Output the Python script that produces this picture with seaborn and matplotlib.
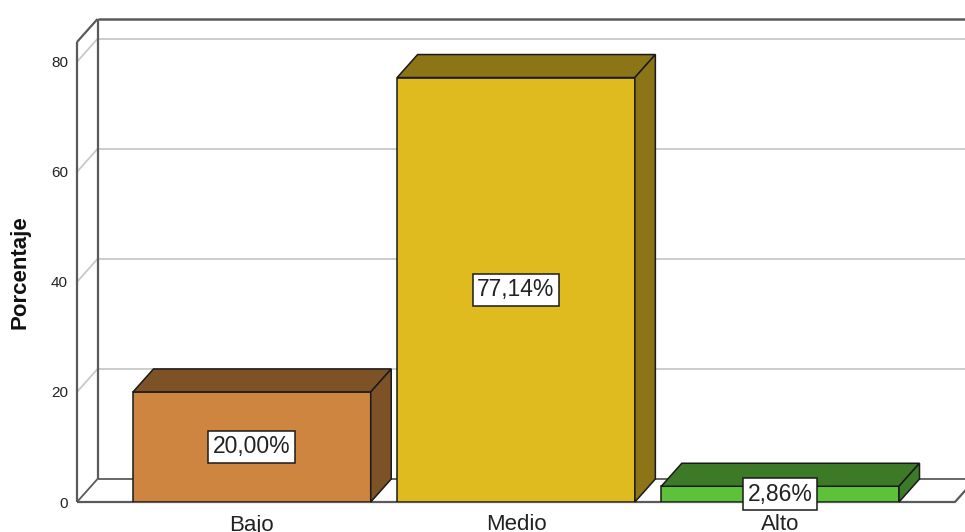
import matplotlib
matplotlib.use("Agg")
import matplotlib.pyplot as plt
from matplotlib.patches import Polygon
import seaborn as sns
import pandas as pd

# Data
categories = ["Bajo", "Medio", "Alto"]
percentages = [20.00, 77.14, 2.86]
value_labels = ["20,00%", "77,14%", "2,86%"]
y_ticks = [0, 20, 40, 60, 80]
y_title = "Porcentaje"

# Face colours: front, top/side (shaded)
front_colors = ["#CD853F", "#E0BB20", "#5EC13A"]
shade_colors = ["#7E5227", "#8B7516", "#3C7A28"]

sns.set_style("white")
plt.rcParams["font.family"] = ["Liberation Sans", "DejaVu Sans"]

W, H = 965, 532
fig = plt.figure(figsize=(W / 100, H / 100), dpi=100)
# front plane of the 3D box
ax_left, ax_right, ax_bottom, ax_top = 77, 955, 502, 42
ax = fig.add_axes([ax_left / W, (H - ax_bottom) / H,
                   (ax_right - ax_left) / W, (ax_bottom - ax_top) / H])

edge = "#1A1A1A"
edge_lw = 1.1

# front faces of the bars
df = pd.DataFrame({"categoria": categories, "porcentaje": percentages})
sns.barplot(data=df, x="categoria", y="porcentaje", hue="categoria",
            palette=front_colors, width=0.9, edgecolor=edge,
            linewidth=edge_lw, legend=False, saturation=1, ax=ax, zorder=3)

xmin, xmax = -0.662, 2.662
ymin, ymax = 0, 83.6
ax.set_xlim(xmin, xmax)
ax.set_ylim(ymin, ymax)

# depth offset of the 3D effect, expressed in data units
depth_px_x, depth_px_y = 20.5, 23.0
DX = depth_px_x / (ax_right - ax_left) * (xmax - xmin)
DY = depth_px_y / (ax_bottom - ax_top) * (ymax - ymin)

dark = "#5A5A5A"
grid = "#C8C8C8"
far = xmax + 1.0  # lines run off the right edge of the figure

def line(xs, ys, color, lw, z=0.5):
    ax.plot(xs, ys, color=color, lw=lw, clip_on=False, zorder=z,
            solid_capstyle="butt")

# back wall and left wall grid lines
for t in y_ticks[1:]:
    line([xmin + DX, far], [t + DY, t + DY], grid, 1.3)
    line([xmin, xmin + DX], [t, t + DY], grid, 1.3)

# box frame
line([xmin + DX, far], [ymax + DY, ymax + DY], dark, 1.8)
line([xmin + DX, far], [DY, DY], dark, 1.3)
line([xmin, xmin], [0, ymax], dark, 1.6)
line([xmin + DX, xmin + DX], [DY, ymax + DY], dark, 1.6)
line([xmin, xmin + DX], [ymax, ymax + DY], dark, 1.6)
line([xmin, xmin + DX], [0, DY], dark, 1.3)
line([xmin, xmax, xmax + DX], [0, 0, DY], dark, 1.6)

# top and side faces, plus value boxes
for bar, shade, lab in zip(ax.patches, shade_colors, value_labels):
    x0 = bar.get_x()
    w = bar.get_width()
    h = bar.get_height()
    x1 = x0 + w
    top = Polygon([(x0, h), (x0 + DX, h + DY), (x1 + DX, h + DY), (x1, h)],
                  closed=True, facecolor=shade, edgecolor=edge,
                  lw=edge_lw, zorder=3, clip_on=False)
    side = Polygon([(x1, 0), (x1, h), (x1 + DX, h + DY), (x1 + DX, DY)],
                   closed=True, facecolor=shade, edgecolor=edge,
                   lw=edge_lw, zorder=3, clip_on=False)
    ax.add_patch(top)
    ax.add_patch(side)
    ax.text(x0 + w / 2, h / 2, lab, ha="center", va="center", fontsize=16.5,
            color="#222222", zorder=5,
            bbox=dict(boxstyle="square,pad=0.2", facecolor="white",
                      edgecolor=edge, lw=edge_lw))

for s in ax.spines.values():
    s.set_visible(False)
ax.set_facecolor("none")
ax.set_yticks(y_ticks)
ax.set_yticklabels([str(t) for t in y_ticks])
ax.tick_params(axis="y", length=0, pad=6.5, labelsize=11, labelcolor="#222222")
ax.tick_params(axis="x", length=0, pad=9, labelsize=16, labelcolor="#222222")
ax.set_xlabel("")
ax.set_ylabel("")

fig.text(20 / W, (H - 272) / H, y_title, rotation=90, ha="center",
         va="center", fontsize=16, fontweight="bold", color="#111111")

fig.savefig("out.png", dpi=100, facecolor="white")
